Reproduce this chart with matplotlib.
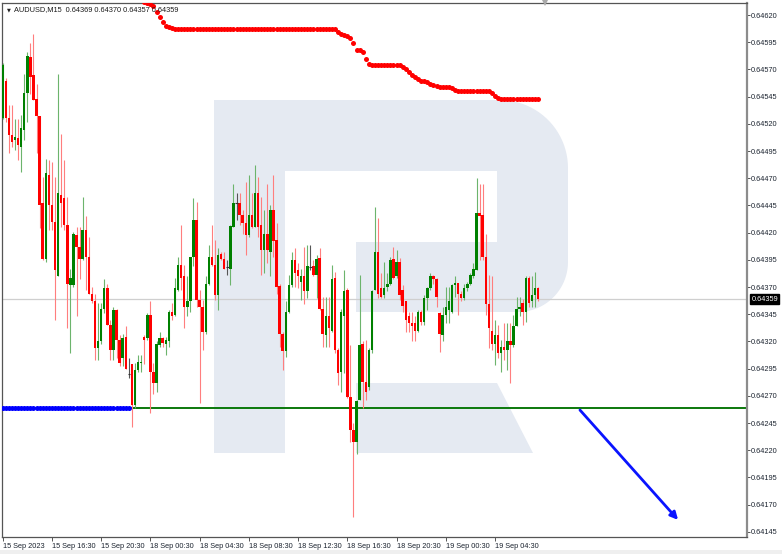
import matplotlib
matplotlib.use("Agg")
import matplotlib.pyplot as plt
import matplotlib.transforms as mtransforms
from matplotlib.patches import Polygon, Rectangle
import numpy as np

# ---------------- data ----------------
symbol = "AUDUSD,M15"

opens = [
    0.64525, 0.64559, 0.64525, 0.64510, 0.64505, 0.64507, 0.64499, 0.64514, 0.64548, 0.64581,
    0.64565, 0.64543, 0.64527, 0.64447, 0.64396, 0.64473, 0.64445, 0.64430, 0.64380, 0.64455,
    0.64452, 0.64427, 0.64372, 0.64372, 0.64418, 0.64407, 0.64396, 0.64422, 0.64398, 0.64364,
    0.64357, 0.64314, 0.64320, 0.64350, 0.64369, 0.64335, 0.64312, 0.64349, 0.64321, 0.64305,
    0.64324, 0.64290, 0.64299, 0.64262, 0.64294, 0.64300, 0.64324, 0.64323, 0.64344, 0.64292,
    0.64282, 0.64317, 0.64323, 0.64318, 0.64320, 0.64347, 0.64344, 0.64367, 0.64390, 0.64380,
    0.64352, 0.64357, 0.64398, 0.64432, 0.64358, 0.64352, 0.64329, 0.64373, 0.64398, 0.64390,
    0.64363, 0.64400, 0.64396, 0.64388, 0.64387, 0.64425, 0.64447, 0.64447, 0.64436, 0.64429,
    0.64418, 0.64436, 0.64425, 0.64456, 0.64427, 0.64404, 0.64419, 0.64402, 0.64441, 0.64413,
    0.64371, 0.64327, 0.64311, 0.64347, 0.64372, 0.64395, 0.64386, 0.64375, 0.64380, 0.64366,
    0.64388, 0.64389, 0.64381, 0.64397, 0.64350, 0.64326, 0.64343, 0.64330, 0.64378, 0.64312,
    0.64292, 0.64343, 0.64367, 0.64269, 0.64239, 0.64228, 0.64266, 0.64318, 0.64283, 0.64278,
    0.64312, 0.64367, 0.64402, 0.64369, 0.64363, 0.64370, 0.64373, 0.64396, 0.64380, 0.64393,
    0.64367, 0.64357, 0.64343, 0.64337, 0.64337, 0.64330, 0.64347, 0.64338, 0.64360, 0.64369,
    0.64380, 0.64377, 0.64346, 0.64326, 0.64344, 0.64349, 0.64347, 0.64372, 0.64374, 0.64364,
    0.64360, 0.64369, 0.64373, 0.64380, 0.64386, 0.64438, 0.64436, 0.64398, 0.64354, 0.64330,
    0.64318, 0.64326, 0.64309, 0.64315, 0.64312, 0.64320, 0.64317, 0.64334, 0.64350, 0.64355,
    0.64347, 0.64378, 0.64357, 0.64363, 0.64369,
]
highs = [
    0.64576, 0.64562, 0.64537, 0.64537, 0.64524, 0.64524, 0.64528, 0.64566, 0.64586, 0.64594,
    0.64603, 0.64557, 0.64527, 0.64471, 0.64488, 0.64487, 0.64485, 0.64471, 0.64566, 0.64511,
    0.64487, 0.64453, 0.64387, 0.64421, 0.64425, 0.64425, 0.64453, 0.64435, 0.64416, 0.64370,
    0.64364, 0.64355, 0.64355, 0.64377, 0.64373, 0.64340, 0.64352, 0.64350, 0.64326, 0.64327,
    0.64334, 0.64305, 0.64299, 0.64300, 0.64308, 0.64308, 0.64326, 0.64346, 0.64357, 0.64300,
    0.64320, 0.64329, 0.64324, 0.64324, 0.64349, 0.64355, 0.64378, 0.64398, 0.64427, 0.64390,
    0.64380, 0.64398, 0.64452, 0.64448, 0.64367, 0.64358, 0.64380, 0.64409, 0.64427, 0.64413,
    0.64406, 0.64402, 0.64402, 0.64395, 0.64427, 0.64465, 0.64456, 0.64456, 0.64441, 0.64467,
    0.64473, 0.64456, 0.64482, 0.64471, 0.64453, 0.64441, 0.64465, 0.64445, 0.64473, 0.64429,
    0.64373, 0.64329, 0.64357, 0.64381, 0.64402, 0.64406, 0.64392, 0.64387, 0.64407, 0.64409,
    0.64409, 0.64395, 0.64399, 0.64406, 0.64361, 0.64361, 0.64361, 0.64390, 0.64384, 0.64314,
    0.64350, 0.64386, 0.64369, 0.64317, 0.64245, 0.64266, 0.64381, 0.64320, 0.64321, 0.64314,
    0.64367, 0.64444, 0.64433, 0.64383, 0.64393, 0.64383, 0.64398, 0.64407, 0.64404, 0.64397,
    0.64372, 0.64357, 0.64347, 0.64347, 0.64343, 0.64349, 0.64349, 0.64363, 0.64370, 0.64383,
    0.64381, 0.64378, 0.64347, 0.64352, 0.64370, 0.64370, 0.64373, 0.64380, 0.64374, 0.64366,
    0.64373, 0.64375, 0.64383, 0.64392, 0.64470, 0.64465, 0.64465, 0.64419, 0.64381, 0.64380,
    0.64340, 0.64335, 0.64321, 0.64337, 0.64337, 0.64337, 0.64344, 0.64361, 0.64361, 0.64359,
    0.64380, 0.64380, 0.64380, 0.64384, 0.64370,
]
lows = [
    0.64524, 0.64522, 0.64493, 0.64499, 0.64496, 0.64487, 0.64476, 0.64505, 0.64522, 0.64547,
    0.64542, 0.64493, 0.64424, 0.64395, 0.64393, 0.64422, 0.64422, 0.64340, 0.64380, 0.64425,
    0.64422, 0.64332, 0.64309, 0.64370, 0.64343, 0.64377, 0.64395, 0.64367, 0.64364, 0.64355,
    0.64303, 0.64303, 0.64318, 0.64346, 0.64335, 0.64303, 0.64303, 0.64305, 0.64297, 0.64297,
    0.64295, 0.64286, 0.64241, 0.64259, 0.64292, 0.64292, 0.64299, 0.64321, 0.64254, 0.64272,
    0.64274, 0.64315, 0.64315, 0.64308, 0.64315, 0.64340, 0.64343, 0.64366, 0.64367, 0.64332,
    0.64343, 0.64347, 0.64389, 0.64352, 0.64263, 0.64312, 0.64327, 0.64372, 0.64389, 0.64358,
    0.64349, 0.64395, 0.64387, 0.64381, 0.64372, 0.64425, 0.64432, 0.64427, 0.64419, 0.64399,
    0.64416, 0.64424, 0.64425, 0.64416, 0.64381, 0.64383, 0.64392, 0.64380, 0.64398, 0.64364,
    0.64315, 0.64294, 0.64306, 0.64346, 0.64370, 0.64370, 0.64369, 0.64358, 0.64354, 0.64360,
    0.64386, 0.64380, 0.64360, 0.64349, 0.64315, 0.64315, 0.64315, 0.64329, 0.64309, 0.64280,
    0.64274, 0.64291, 0.64268, 0.64228, 0.64159, 0.64217, 0.64266, 0.64259, 0.64266, 0.64275,
    0.64309, 0.64367, 0.64360, 0.64360, 0.64360, 0.64366, 0.64372, 0.64377, 0.64378, 0.64358,
    0.64347, 0.64329, 0.64329, 0.64320, 0.64320, 0.64329, 0.64335, 0.64335, 0.64349, 0.64367,
    0.64373, 0.64352, 0.64310, 0.64320, 0.64337, 0.64337, 0.64346, 0.64361, 0.64344, 0.64357,
    0.64358, 0.64366, 0.64372, 0.64378, 0.64386, 0.64395, 0.64395, 0.64344, 0.64314, 0.64312,
    0.64298, 0.64305, 0.64292, 0.64303, 0.64294, 0.64282, 0.64315, 0.64334, 0.64343, 0.64335,
    0.64338, 0.64352, 0.64352, 0.64352, 0.64357,
]
closes = [
    0.64574, 0.64525, 0.64510, 0.64503, 0.64508, 0.64501, 0.64516, 0.64548, 0.64582, 0.64563,
    0.64542, 0.64527, 0.64445, 0.64396, 0.64475, 0.64445, 0.64430, 0.64386, 0.64456, 0.64447,
    0.64427, 0.64373, 0.64378, 0.64419, 0.64407, 0.64396, 0.64422, 0.64398, 0.64364, 0.64357,
    0.64314, 0.64320, 0.64350, 0.64369, 0.64335, 0.64312, 0.64349, 0.64321, 0.64300, 0.64323,
    0.64295, 0.64290, 0.64262, 0.64294, 0.64301, 0.64301, 0.64321, 0.64344, 0.64292, 0.64282,
    0.64318, 0.64323, 0.64319, 0.64321, 0.64347, 0.64343, 0.64369, 0.64390, 0.64378, 0.64352,
    0.64357, 0.64398, 0.64432, 0.64358, 0.64352, 0.64329, 0.64373, 0.64398, 0.64390, 0.64363,
    0.64399, 0.64396, 0.64387, 0.64388, 0.64426, 0.64447, 0.64447, 0.64436, 0.64429, 0.64418,
    0.64436, 0.64425, 0.64456, 0.64425, 0.64404, 0.64419, 0.64404, 0.64441, 0.64412, 0.64370,
    0.64327, 0.64311, 0.64347, 0.64372, 0.64395, 0.64383, 0.64380, 0.64380, 0.64366, 0.64389,
    0.64388, 0.64381, 0.64396, 0.64350, 0.64327, 0.64343, 0.64332, 0.64377, 0.64312, 0.64291,
    0.64347, 0.64366, 0.64269, 0.64239, 0.64228, 0.64265, 0.64317, 0.64283, 0.64274, 0.64312,
    0.64366, 0.64402, 0.64364, 0.64361, 0.64369, 0.64373, 0.64395, 0.64378, 0.64393, 0.64363,
    0.64353, 0.64340, 0.64337, 0.64334, 0.64330, 0.64347, 0.64338, 0.64360, 0.64369, 0.64380,
    0.64377, 0.64361, 0.64327, 0.64344, 0.64352, 0.64357, 0.64372, 0.64374, 0.64364, 0.64360,
    0.64369, 0.64373, 0.64381, 0.64387, 0.64438, 0.64435, 0.64398, 0.64354, 0.64332, 0.64318,
    0.64326, 0.64309, 0.64315, 0.64312, 0.64320, 0.64317, 0.64334, 0.64350, 0.64352, 0.64347,
    0.64378, 0.64355, 0.64363, 0.64369, 0.64359,
]

# red indicator dots (above price), starting at bar 46
red_dots_start = 46
red_dots = [
    0.64632, 0.64631, 0.64630, 0.64628, 0.64623, 0.64618, 0.64614, 0.64610, 0.64609, 0.64608,
    0.64607, 0.64607, 0.64607, 0.64607, 0.64607, 0.64607, 0.64607, 0.64607, 0.64607, 0.64607,
    0.64607, 0.64607, 0.64607, 0.64607, 0.64607, 0.64607, 0.64607, 0.64607, 0.64607, 0.64607,
    0.64607, 0.64607, 0.64607, 0.64607, 0.64607, 0.64607, 0.64607, 0.64607, 0.64607, 0.64607,
    0.64607, 0.64607, 0.64607, 0.64607, 0.64607, 0.64607, 0.64607, 0.64607, 0.64607, 0.64607,
    0.64607, 0.64607, 0.64607, 0.64607, 0.64607, 0.64607, 0.64607, 0.64607, 0.64607, 0.64607,
    0.64607, 0.64607, 0.64607,
    0.64604, 0.64603, 0.64602, 0.64601, 0.64599, 0.64594, 0.64588, 0.64588, 0.64586, 0.64580,
    0.64575,
    0.64574, 0.64574, 0.64574, 0.64574, 0.64574, 0.64574, 0.64574, 0.64574, 0.64574, 0.64574,
    0.64572, 0.64570, 0.64568, 0.64565, 0.64563, 0.64561, 0.64559, 0.64559, 0.64558, 0.64557,
    0.64556, 0.64555,
    0.64554, 0.64554, 0.64554, 0.64554, 0.64553, 0.64551,
    0.64550, 0.64550, 0.64550, 0.64550, 0.64550, 0.64550, 0.64550, 0.64550, 0.64550, 0.64550,
    0.64550,
    0.64548, 0.64546, 0.64544,
    0.64543, 0.64543, 0.64543, 0.64543, 0.64543, 0.64543, 0.64543, 0.64543, 0.64543, 0.64543,
    0.64543, 0.64543, 0.64543,
]

# blue indicator dots (below price), bars 0..41
blue_dots = [
    0.64259, 0.64259, 0.64259, 0.64259, 0.64259, 0.64259, 0.64259, 0.64259, 0.64259, 0.64259,
    0.64259, 0.64259, 0.64259, 0.64259, 0.64259, 0.64259, 0.64259, 0.64259, 0.64259, 0.64259,
    0.64259, 0.64259, 0.64259, 0.64259, 0.64259, 0.64259, 0.64259, 0.64259, 0.64259, 0.64259,
    0.64259, 0.64259, 0.64259, 0.64259, 0.64259, 0.64259, 0.64259, 0.64259, 0.64259, 0.64259,
    0.64259, 0.64259,
]

support_level = 0.64259
arrow_start = [187.6, 0.64257]
arrow_end = [219.5, 0.64156]

xtick_bars = [0, 16, 32, 48, 64, 80, 96, 112, 128, 144, 160]
xtick_labels = ["15 Sep 2023", "15 Sep 16:30", "15 Sep 20:30", "18 Sep 00:30",
                "18 Sep 04:30", "18 Sep 08:30", "18 Sep 12:30", "18 Sep 16:30",
                "18 Sep 20:30", "19 Sep 00:30", "19 Sep 04:30"]
ytick_values = [0.64145, 0.64170, 0.64195, 0.64220, 0.64245, 0.64270, 0.64295,
                0.64320, 0.64345, 0.64370, 0.64395, 0.64420, 0.64445, 0.64470,
                0.64495, 0.64520, 0.64545, 0.64570, 0.64595, 0.64620]

# ---------------- figure ----------------
W, H = 782, 554
fig = plt.figure(figsize=(W / 100, H / 100), dpi=100)
fig.patch.set_facecolor("white")

# watermark layer in pixel coordinates
bg = fig.add_axes([0, 0, 1, 1], zorder=0)
bg.set_xlim(0, W)
bg.set_ylim(H, 0)
bg.axis("off")
logo_col = "#E5EAF2"


def arc(cx, cy, r, a0, a1, n=24):
    t = np.radians(np.linspace(a0, a1, n))
    return list(zip(cx + r * np.cos(t), cy + r * np.sin(t)))


bowl = [(214, 100), (500, 100)]
bowl += arc(500, 168, 68, -90, 0)
bowl += [(568, 262)]
bowl += arc(518, 262, 50, 0, 90)
bowl += [(356, 312), (356, 242), (497, 242), (497, 171), (285, 171),
         (285, 453), (214, 453)]
bg.add_patch(Polygon(bowl, closed=True, facecolor=logo_col, edgecolor="none"))
bg.add_patch(Polygon([(356, 383), (497, 383), (533, 453), (356, 453)], closed=True,
                     facecolor=logo_col, edgecolor="none"))
bg.add_patch(Rectangle((0, 550), W, 4, facecolor="#efefef", edgecolor="none"))

# main chart axes
px_left, px_right, px_top, px_bot = 2.0, 746.5, 2.5, 537.0
ax = fig.add_axes([px_left / W, 1 - px_bot / H, (px_right - px_left) / W,
                   (px_bot - px_top) / H], zorder=2)
ax.set_facecolor("none")
bar_px, bar0_px = 3.077, 2.7
ax.set_xlim((px_left - bar0_px) / bar_px, (px_right - bar0_px) / bar_px)
ax.set_ylim(0.641403, 0.646315)

o = np.array(opens)
h = np.array(highs)
l = np.array(lows)
c = np.array(closes)
idx = np.arange(len(o))
up = c > o
dn = c < o
dj = c == o

ax.axhline(closes[-1], color="#cfcfcf", lw=0.9, zorder=1)
ax.axhline(support_level, color="#0b780b", lw=1.4, zorder=2)

ax.vlines(idx[up], l[up], h[up], color="#6cb46c", lw=0.8, zorder=3)
ax.vlines(idx[dn], l[dn], h[dn], color="#ff7e7e", lw=0.8, zorder=3)
ax.vlines(idx[dj], l[dj], h[dj], color="#555555", lw=0.8, zorder=3)
body_h = np.maximum(np.abs(c - o), 0.000012)
body_b = np.minimum(o, c)
ax.bar(idx[up], body_h[up], bottom=body_b[up], width=0.8, color="#008000",
       linewidth=0, zorder=4)
ax.bar(idx[dn], body_h[dn], bottom=body_b[dn], width=0.8, color="#ff0000",
       linewidth=0, zorder=4)
ax.hlines(o[dj], idx[dj] - 0.4, idx[dj] + 0.4, color="#333333", lw=0.8, zorder=4)

red_x = np.arange(red_dots_start, red_dots_start + len(red_dots))
ax.plot(red_x, red_dots, "o", color="#ff0000", ms=3.6, mew=0, zorder=5)
blue_x = np.arange(len(blue_dots))
ax.plot(blue_x, blue_dots, "o", color="#0000ff", ms=3.6, mew=0, zorder=5)

ax.annotate("", xy=arrow_end, xytext=arrow_start,
            arrowprops=dict(arrowstyle="-|>", color="#0a14ff", lw=2.0,
                            mutation_scale=11, shrinkA=0, shrinkB=0),
            zorder=6)

# shift marker
ax.plot([len(opens) + 1.2], [ax.get_ylim()[1]], marker="v", color="#a9a9a9",
        ms=5, mew=0, clip_on=False, zorder=7)

# axes styling
for s in ["top", "left", "bottom"]:
    ax.spines[s].set_color("#555555")
    ax.spines[s].set_linewidth(0.9)
ax.spines["right"].set_color("#8c8c8c")
ax.spines["right"].set_linewidth(1.6)

font = "Liberation Sans"
ax.yaxis.tick_right()
ax.set_yticks(ytick_values)
ax.set_yticklabels([f"{v:.5f}" for v in ytick_values], fontfamily=font)
ax.tick_params(axis="y", length=2.2, width=0.7, pad=1.2, labelsize=5.3,
               colors="#555555", labelcolor="#1c2430")
ax.set_xticks(xtick_bars)
ax.set_xticklabels(xtick_labels, fontfamily=font)
ax.tick_params(axis="x", length=3.0, width=0.7, pad=1.5, labelsize=5.3,
               colors="#555555", labelcolor="#1c2430")
for lbl in ax.get_xticklabels():
    lbl.set_horizontalalignment("left")

# current price label
trans = mtransforms.blended_transform_factory(ax.transAxes, ax.transData)
ax.text(1.0065, closes[-1], f"{closes[-1]:.5f}", transform=trans, fontsize=5.3,
        fontfamily=font, color="white", va="center", ha="left", zorder=8,
        bbox=dict(boxstyle="square,pad=0.18", facecolor="black", edgecolor="black"))

# header
fig.text(6.5 / W, 1 - 9.5 / H, "\u25bc", fontsize=3.6, color="#222222",
         va="center", ha="left", family=["DejaVu Sans"])
fig.text(14 / W, 1 - 9.5 / H,
         f"{symbol}  {opens[-1]:.5f} {highs[-1]:.5f} {lows[-1]:.5f} {closes[-1]:.5f}",
         fontsize=5.3, fontfamily=font, color="#1a1a1a", va="center", ha="left",
         zorder=9)

fig.savefig("out.png", dpi=100, facecolor="white")
